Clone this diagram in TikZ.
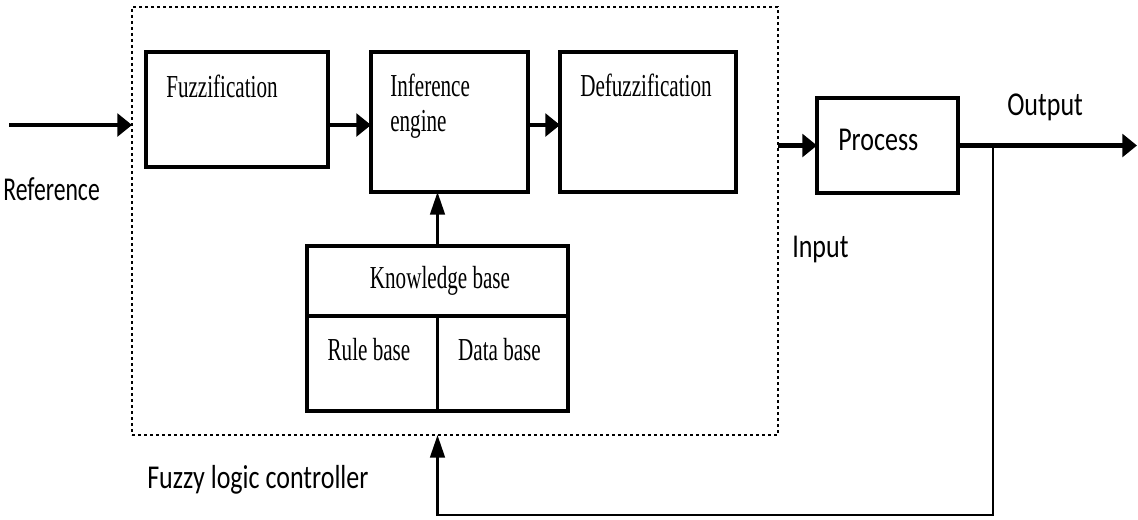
\documentclass[tikz,border=0pt]{standalone}
\usepackage{fontspec}
\usetikzlibrary{arrows.meta}
\newfontfamily\myserif[FakeStretch=0.66]{Liberation Serif}
\newfontfamily\mysans[FakeStretch=0.78]{Carlito}
\newfontfamily\myrefsans[FakeStretch=0.71]{Carlito}
\tikzset{
  blk/.style={draw, line width=2.3pt, rectangle, inner sep=0pt, outer sep=0pt},
  stxt/.style={inner sep=0pt, anchor=base west, font=\myserif\fontsize{24}{26.25}\selectfont},
  sstxt/.style={inner sep=0pt, anchor=base west, font=\mysans\fontsize{25}{28}\selectfont},
  thick arrow/.style={line width=3.4pt, -{Triangle[length=11pt,width=17pt]}},
  thin arrow/.style={line width=2pt, -{Triangle[length=17pt,width=11pt]}},
  dotbox/.style={draw, line width=1.9pt, dash pattern=on 1.9pt off 2.6pt, rectangle, inner sep=0pt, outer sep=0pt}
}
\begin{document}
\begin{tikzpicture}[x=0.75pt, y=-0.75pt]
\useasboundingbox (0,0) rectangle (1138,519);
% dotted controller box
\node[dotbox, minimum width=484.5pt, minimum height=321pt] (flc) at (455,221) {};
% blocks
\node[blk, minimum width=136.5pt, minimum height=86.25pt] (fuzz) at (237,109.5) {};
\node[blk, minimum width=117.75pt, minimum height=105pt] (inf) at (449.5,122) {};
\node[blk, minimum width=132pt, minimum height=105pt] (defz) at (648,122) {};
\node[blk, minimum width=105.75pt, minimum height=71.25pt] (proc) at (887.5,145.5) {};
\node[blk, minimum width=195.75pt, minimum height=123.75pt] (kb) at (437.5,328.5) {};
% knowledge base dividers
\coordinate (kbl) at (307,316);
\coordinate (kbr) at (568,316);
\draw[line width=2.3pt] (kbl -| kb.west) -- (kbr -| kb.east);
\draw[line width=2.3pt] (kbl -| kb.north) -- (kb.south);
% texts
\node[stxt] (tfuzz) at (166,97) {Fuzzification};
\node[stxt] (tinf) at (390,96) {Inference};
\node[stxt] (teng) at (390,131) {engine};
\node[stxt] (tdefz) at (580,96) {Defuzzification};
\node[stxt, anchor=base] (tkb) at (440,288) {Knowledge base};
\node[stxt, anchor=base] (trule) at (369,360) {Rule base};
\node[stxt, anchor=base] (tdata) at (499.5,360) {Data base};
\node[sstxt] (tproc) at (838,150) {Process};
\node[sstxt] (tout) at (1007,115) {Output};
\node[sstxt] (tin) at (792,257) {Input};
\node[sstxt] (tflc) at (147,488) {Fuzzy logic controller};
\node[inner sep=0pt, anchor=base east, font=\myrefsans\fontsize{25}{28}\selectfont] (tref) at (100,200) {Reference};
% connectors
\coordinate (ref) at (9,125);
\draw[thick arrow] (ref) -- (ref -| flc.west);
\draw[thick arrow] (ref -| fuzz.east) -- (ref -| inf.west);
\draw[thick arrow] (ref -| inf.east) -- (ref -| defz.west);
\draw[thin arrow] (kb.north) -- (kb.north |- inf.south);
\draw[thick arrow] (proc.west -| flc.east) -- (proc.west);
\coordinate (out) at (1137,145.5);
\draw[thick arrow] (proc.east) -- (out);
\coordinate (j) at (993,145.5);
\coordinate (fb) at (993,515);
\draw[thin arrow] (j) -- (fb) -- (fb -| kb.north) -- (flc.south -| kb.north);
\end{tikzpicture}
\end{document}
